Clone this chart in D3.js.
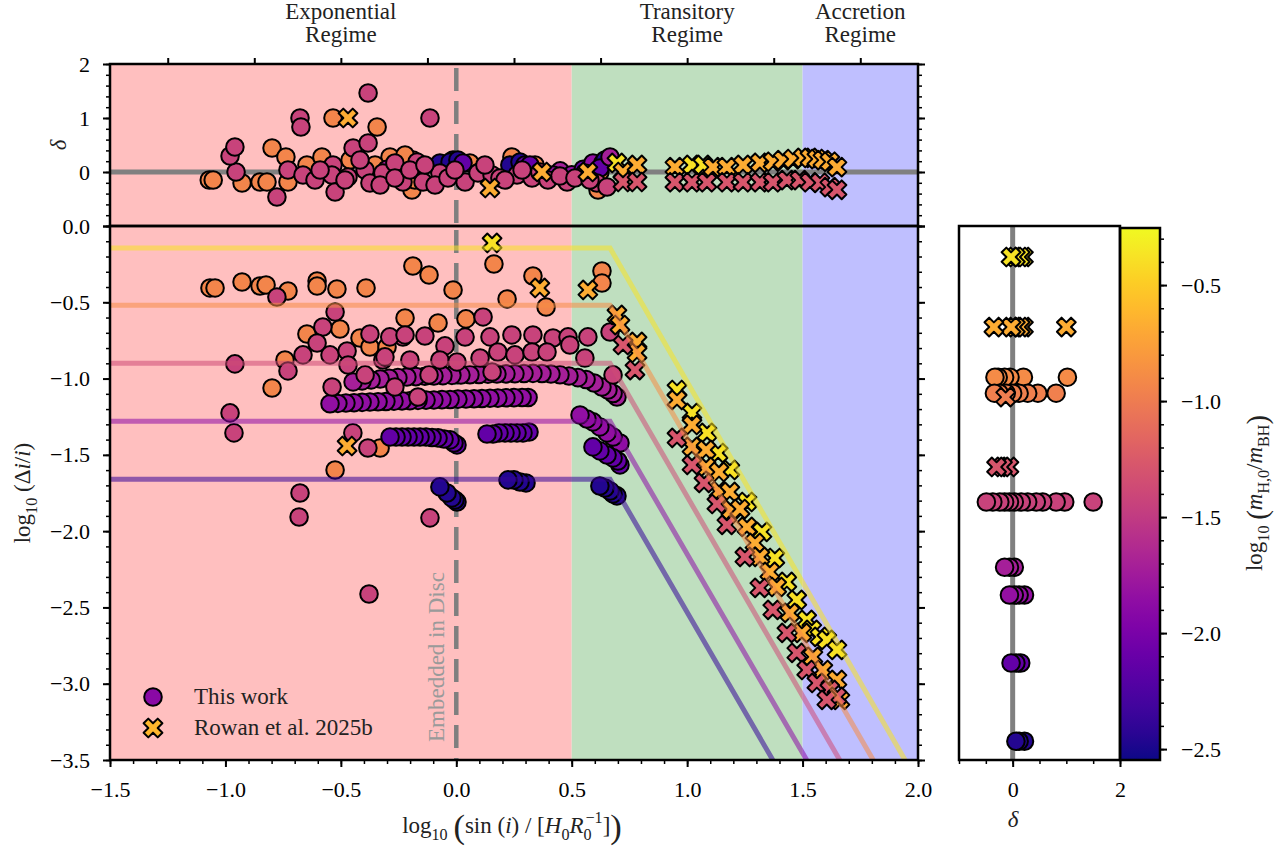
<!DOCTYPE html>
<html>
<head>
<meta charset="utf-8">
<script src="https://cdn.jsdelivr.net/npm/d3@7"></script>
<style>
  body { margin: 0; background: #fff; }
</style>
</head>
<body>
<svg id="chart" width="1287" height="856"></svg>
<script>
'use strict';

// log10(m_H,0 / m_BH) of each group of runs
const mOrange = -0.93, mPink = -1.43, mMagenta = -1.72, mViolet = -1.84, mPurple = -2.13, mBlue = -2.47
const mRowanYellow = -0.38, mRowanOrange = -0.68, mRowanPink = -1.28

// main panel, this work: [log10 sin(i)/(H0/R0), log10 Δi/i]
const workOrange = [[-1.067,-0.406],[-1.045,-0.406],[-0.928,-0.367],[-0.850,-0.393],[-0.824,-0.387],[-0.729,-0.426],
  [-0.603,-0.360],[-0.603,-0.393],[-0.517,-0.413],[-0.391,-0.406],[-0.188,-0.262],[-0.118,-0.321],[-0.014,-0.419],
  [0.163,-0.249],[0.220,-0.478],[0.332,-0.328],[0.389,-0.531],[0.631,-0.295],[0.631,-0.374],[-0.222,-0.603],
  [-0.079,-0.636],[0.042,-0.609],[-0.647,-0.708],[-0.504,-0.675],[-0.742,-0.878],[-0.798,-1.062],[-0.417,-0.734],
  [-0.374,-0.793],[-0.300,-0.793],[-0.525,-1.599],[-0.330,-1.455]]
const workMagenta = [[-0.447,-1.022],[-0.408,-1.015],[-0.369,-1.009],[-0.330,-1.003],[-0.291,-0.998],[-0.253,-0.994],
  [-0.214,-0.990],[-0.175,-0.987],[-0.136,-0.985],[-0.097,-0.983],[-0.058,-0.981],[-0.019,-0.979],[0.020,-0.977],
  [0.059,-0.975],[0.098,-0.973],[0.137,-0.971],[0.176,-0.970],[0.215,-0.969],[0.254,-0.968],[0.293,-0.967],
  [0.332,-0.966],[0.371,-0.967],[0.410,-0.970],[0.449,-0.975],[0.488,-0.983],[0.527,-0.994],[0.562,-1.006],
  [0.597,-1.029],[0.631,-1.055],[0.657,-1.075],[0.679,-1.098],[0.696,-1.121]]
const workViolet = [[-0.547,-1.165],[-0.513,-1.163],[-0.478,-1.160],[-0.443,-1.158],[-0.408,-1.156],[-0.374,-1.154],
  [-0.339,-1.152],[-0.305,-1.150],[-0.270,-1.148],[-0.235,-1.146],[-0.201,-1.145],[-0.166,-1.143],[-0.131,-1.141],
  [-0.097,-1.140],[-0.062,-1.138],[-0.027,-1.137],[0.007,-1.135],[0.042,-1.134],[0.077,-1.132],[0.111,-1.131],
  [0.146,-1.129],[0.180,-1.128],[0.215,-1.126],[0.250,-1.125],[0.285,-1.124],[0.311,-1.124],
  [0.536,-1.239],[0.566,-1.265],[0.592,-1.284],[0.622,-1.317],[0.653,-1.356],[0.679,-1.383],[0.709,-1.422]]
const workPurple = [[-0.287,-1.383],[-0.261,-1.383],[-0.235,-1.383],[-0.209,-1.383],[-0.183,-1.383],[-0.157,-1.383],
  [-0.131,-1.383],[-0.105,-1.386],[-0.079,-1.389],[-0.053,-1.396],[-0.027,-1.402],[-0.010,-1.422],[0.003,-1.435],
  [0.133,-1.363],[0.159,-1.363],[0.185,-1.356],[0.211,-1.356],[0.237,-1.356],[0.263,-1.356],[0.289,-1.356],[0.315,-1.350],
  [0.592,-1.448],[0.622,-1.474],[0.653,-1.501],[0.679,-1.520],[0.700,-1.540],[0.709,-1.566]]
const workBlue = [[-0.071,-1.710],[-0.040,-1.750],[-0.019,-1.782],[-0.006,-1.796],[0.003,-1.809],[0.224,-1.664],
  [0.250,-1.664],[0.276,-1.678],[0.302,-1.684],[0.622,-1.704],[0.644,-1.717],[0.666,-1.737],[0.679,-1.756],[0.696,-1.769]]
const workPink = [[-0.777,-0.465],[-0.525,-0.564],[0.116,-0.596],[-0.578,-0.662],[-0.603,-0.767],[-0.664,-0.845],
  [-0.729,-0.950],[-0.959,-0.904],[-0.547,-0.845],[-0.473,-0.819],[-0.374,-0.708],[-0.469,-0.911],[-0.318,-0.878],
  [-0.231,-0.728],[-0.201,-0.878],[-0.136,-0.721],[-0.049,-0.786],[-0.071,-0.878],[0.038,-0.728],[0.003,-0.891],
  [0.103,-0.865],[0.146,-0.727],[0.155,-0.957],[-0.395,-0.976],[-0.118,-0.976],[-0.266,-1.055],[-0.166,-1.121],
  [-0.538,-1.055],[-0.980,-1.225],[-0.963,-1.356],[-0.448,-1.356],[-0.383,-1.455],[-0.677,-1.750],[-0.681,-1.907],
  [-0.378,-2.412],[-0.114,-1.913],[0.241,-0.714],[0.332,-0.714],[0.419,-0.734],[0.484,-0.727],[0.570,-0.727],
  [0.180,-0.826],[0.254,-0.845],[0.328,-0.826],[0.393,-0.826],[0.492,-0.780],[0.557,-0.865],[0.679,-0.976],
  [0.666,-0.695],[-0.309,-0.858],[-0.288,-0.727],[-0.222,-0.714]]

// main panel, Rowan et al. 2025b
const rowanYellow = [[0.155,-0.111],[0.956,-1.075],[1.021,-1.225],[1.086,-1.356],[1.134,-1.488],[1.185,-1.599],
  [1.259,-1.809],[1.324,-2.005],[1.380,-2.176],[1.432,-2.333],[1.475,-2.451],[1.518,-2.582],[1.540,-2.647],
  [1.575,-2.693],[1.605,-2.713],[1.649,-2.778]]
const rowanOrange = [[0.362,-0.406],[0.570,-0.419],[-0.473,-1.442],[0.696,-0.583],[0.709,-0.649],[0.783,-0.760],
  [0.783,-0.832],[0.956,-1.140],[1.021,-1.304],[1.021,-1.448],[1.082,-1.468],[1.082,-1.579],[1.138,-1.612],
  [1.138,-1.737],[1.185,-1.743],[1.190,-1.861],[1.229,-1.855],[1.259,-1.972],[1.294,-2.077],[1.315,-2.169],
  [1.358,-2.267],[1.388,-2.366],[1.445,-2.536],[1.497,-2.667],[1.545,-2.824],[1.588,-2.910],[1.649,-2.975],[1.662,-3.106]]
const rowanPink = [[0.722,-0.780],[0.774,-0.944],[0.956,-1.389],[1.021,-1.566],[1.073,-1.684],[1.129,-1.822],
  [1.172,-1.959],[1.250,-2.169],[1.315,-2.372],[1.371,-2.516],[1.432,-2.667],[1.475,-2.798],[1.518,-2.910],
  [1.562,-2.995],[1.618,-3.041],[1.649,-3.086],[1.605,-3.106]]

// top panel: [x, δ] (dark ones carry their own mass)
const deltaOrange = [[-1.070,-0.148],[-1.053,-0.148],[-0.928,-0.204],[-0.850,-0.185],[-0.820,-0.185],[-0.798,0.444],
  [-0.738,0.278],[-0.729,-0.185],[-0.647,0.130],[-0.582,0.278],[-0.534,1.0],[-0.343,0.833],[-0.287,0.278],
  [-0.188,0.222],[-0.192,-0.333],[0.059,0.167],[0.241,0.278],[-0.460,0.222],[-0.352,0.130],[-0.222,0.315],
  [-0.179,-0.148],[0.341,0.130],[0.622,0.0],[0.614,-0.333]]
const deltaDark = [[-0.300,0.05,mMagenta],[0.100,0.0,mViolet],[0.450,0.02,mMagenta],[0.500,-0.05,mViolet],
  [0.550,0.05,mPurple],[-0.071,0.167,mBlue],[-0.014,0.222,mBlue],[-0.027,0.185,mBlue],[0.007,0.222,mBlue],
  [0.029,0.167,mPurple],[0.232,0.130,mBlue],[0.276,0.185,mBlue],[0.297,0.130,mPurple],[0.319,0.130,mPurple],
  [0.419,-0.056,mViolet],[0.592,0.167,mViolet],[0.635,0.167,mBlue],[0.644,0.222,mBlue],[0.622,0.074,mPurple],
  [0.666,0.278,mMagenta]]
const deltaPink = [[-0.954,0.0],[-0.980,0.296],[-0.959,0.463],[-0.777,-0.463],[-0.729,0.037],[-0.677,1.0],
  [-0.673,0.833],[-0.664,-0.056],[-0.612,-0.148],[-0.534,0.130],[-0.539,-0.056],[-0.525,-0.370],[-0.447,0.444],
  [-0.469,-0.093],[-0.382,1.463],[-0.382,0.537],[-0.395,0.037],[-0.374,-0.204],[-0.318,-0.019],[-0.266,0.167],
  [-0.231,-0.185],[-0.170,0.185],[-0.144,-0.185],[-0.114,1.0],[-0.071,-0.019],[0.038,-0.185],[0.094,-0.019],
  [0.155,-0.056],[0.189,-0.111],[0.263,-0.056],[0.328,-0.111],[0.480,-0.185],[0.557,-0.019],[0.609,-0.204],
  [0.653,-0.278],[-0.590,0.037],[-0.482,-0.148],[-0.417,0.222],[-0.330,-0.241],[-0.266,-0.111],[-0.201,0.037],
  [-0.136,0.130],[-0.092,-0.241],[-0.036,-0.111],[-0.006,0.037],[0.124,0.130],[0.211,-0.148],[0.285,0.037],
  [0.362,0.0],[0.397,-0.148],[0.449,-0.074],[0.514,-0.111],[0.579,-0.148]]
const deltaRowanYellow = [[0.696,0.167],[1.021,0.13],[1.069,0.13]]
const deltaRowanOrange = [[-0.469,1.0],[0.146,-0.296],[0.371,0.0],[0.570,0.0],[0.722,0.0],[0.783,0.130],[0.947,0.09],
  [1.112,0.09],[1.172,0.09],[1.242,0.13],[1.315,0.17],[1.372,0.19],[1.415,0.22],[1.458,0.24],[1.502,0.26],
  [1.532,0.26],[1.562,0.24],[1.588,0.22],[1.618,0.19],[1.649,0.09]]
const deltaRowanPink = [[0.722,-0.185],[0.783,-0.185],[0.947,-0.19],[1.021,-0.19],[1.086,-0.19],[1.172,-0.19],
  [1.242,-0.19],[1.315,-0.19],[1.372,-0.19],[1.432,-0.15],[1.488,-0.15],[1.532,-0.19],[1.575,-0.20],[1.618,-0.28],[1.649,-0.33]]

// side panel: [δ, log10 m_H,0/m_BH]
const sideCircles = [[1.02,-0.897],[0.2,-0.897],[-0.05,-0.897],[-0.15,-0.897],[-0.27,-0.897],[-0.33,-0.897],
  [0.81,-0.966],[0.47,-0.966],[0.28,-0.966],[0.12,-0.966],[0.0,-0.966],[-0.12,-0.966],[-0.25,-0.966],[-0.34,-0.966],
  [1.5,-1.435],[0.97,-1.435],[0.81,-1.435],[0.56,-1.435],[0.44,-1.435],[0.28,-1.435],[0.16,-1.435],[0.03,-1.435],
  [-0.06,-1.435],[-0.15,-1.435],[-0.24,-1.435],[-0.37,-1.435],[-0.49,-1.435],
  [0.03,-1.716],[-0.06,-1.716],[-0.15,-1.716],
  [0.22,-1.836],[0.12,-1.836],[0.03,-1.836],[-0.06,-1.836],
  [0.15,-2.129],[0.06,-2.129],[-0.03,-2.129],
  [0.22,-2.466],[0.12,-2.466],[0.06,-2.466]]
const sideCrosses = [[0.2,-0.379],[0.14,-0.379],[0.05,-0.379],[-0.03,-0.379],
  [1.0,-0.681],[0.2,-0.681],[0.14,-0.681],[0.05,-0.681],[-0.03,-0.681],[-0.35,-0.681],
  [-0.13,-0.983],[-0.07,-1.284],[-0.19,-1.284],[-0.3,-1.284]]

// model tracks: plateau level, knee and where each reaches the bottom
const trackMass = [-0.38, -0.88, -1.38, -1.88, -2.38]
const trackPlateau = [-0.145, -0.52, -0.90, -1.28, -1.66]
const trackKnee = 0.666
const trackEnd = [1.944, 1.806, 1.661, 1.518, 1.371]

// regimes
const regimeEdges = [-1.5, 0.5, 1.5, 2.0]
const regimeNames = [['Exponential', 'Regime'], ['Transitory', 'Regime'], ['Accretion', 'Regime']]
const regimeLabelAt = [-0.5, 1.0, 1.75]
const topTicks = [-1.25, -0.875, -0.5, -0.125, 0.25, 0.625, 1.0, 1.375, 1.75]

const regimeFill = ['#ffbfbf', '#bfdfbf', '#bfbfff']
const font = '"Liberation Serif", "Times New Roman", serif'

const svg = d3.select('#chart')

const x = d3.scaleLinear().domain([-1.5, 2]).range([110, 918])
const yTop = d3.scaleLinear().domain([-1, 2]).range([226, 64])
const yBot = d3.scaleLinear().domain([-3.5, 0]).range([760, 226])
const xSide = d3.scaleLinear().domain([-1, 2]).range([959, 1120])
const yMass = d3.scaleLinear().domain([-2.547, -0.254]).range([760, 228])
const color = d3.scaleSequential(d3.interpolatePlasma).domain([-2.547, -0.254])

const defs = svg.append('defs')
function clip(id, x0, y0, x1, y1) {
  defs.append('clipPath').attr('id', id).append('rect')
    .attr('x', x0).attr('y', y0).attr('width', x1 - x0).attr('height', y1 - y0)
}
clip('clipTop', x(-1.5), yTop(2), x(2), yTop(-1))
clip('clipBot', x(-1.5), yBot(0), x(2), yBot(-3.5))
clip('clipSide', xSide(-1), yBot(0), xSide(2), yBot(-3.5))

// filled "X" marker like matplotlib
const crossPath = (() => {
  const L = 10, w = 3.3
  const pts = [[w,w],[w,L],[-w,L],[-w,w],[-L,w],[-L,-w],[-w,-w],[-w,-L],[w,-L],[w,-w],[L,-w],[L,w]]
  return 'M' + pts.map(([a, b]) => ((a - b) / Math.SQRT2).toFixed(2) + ',' + ((a + b) / Math.SQRT2).toFixed(2)).join('L') + 'Z'
})()

function drawCircles(g, data) {
  g.selectAll(null).data(data).join('circle')
    .attr('cx', d => d.cx).attr('cy', d => d.cy).attr('r', 8.8)
    .attr('fill', d => color(d.m)).attr('stroke', '#000').attr('stroke-width', 2)
}
function drawCrosses(g, data) {
  g.selectAll(null).data(data).join('path')
    .attr('d', crossPath).attr('transform', d => `translate(${d.cx},${d.cy})`)
    .attr('fill', d => color(d.m)).attr('stroke', '#000').attr('stroke-width', 2).attr('stroke-linejoin', 'round')
}

// ---------- top panel ----------
const topPanel = svg.append('g').attr('clip-path', 'url(#clipTop)')
const mainPanel = svg.append('g').attr('clip-path', 'url(#clipBot)')
;[[topPanel, yTop], [mainPanel, yBot]].forEach(([g, y]) => {
  g.selectAll(null).data(regimeFill).join('rect')
    .attr('x', (d, i) => x(regimeEdges[i])).attr('width', (d, i) => x(regimeEdges[i + 1]) - x(regimeEdges[i]))
    .attr('y', y.range()[1]).attr('height', y.range()[0] - y.range()[1]).attr('fill', d => d)
  g.append('line').attr('x1', x(0)).attr('x2', x(0)).attr('y1', y.range()[1]).attr('y2', y.range()[0])
    .attr('stroke', '#7f7f7f').attr('stroke-width', 4.5).attr('stroke-dasharray', '23,10').attr('stroke-dashoffset', -4)
})
topPanel.append('line').attr('x1', x(-1.5)).attr('x2', x(2)).attr('y1', yTop(0)).attr('y2', yTop(0))
  .attr('stroke', '#808080').attr('stroke-width', 5)

drawCircles(topPanel, [
  ...deltaOrange.map(d => ({cx: x(d[0]), cy: yTop(d[1]), m: mOrange})),
  ...deltaDark.map(d => ({cx: x(d[0]), cy: yTop(d[1]), m: d[2]})),
  ...deltaPink.map(d => ({cx: x(d[0]), cy: yTop(d[1]), m: mPink}))
])
drawCrosses(topPanel, [
  ...deltaRowanYellow.map(d => ({cx: x(d[0]), cy: yTop(d[1]), m: mRowanYellow})),
  ...deltaRowanOrange.map(d => ({cx: x(d[0]), cy: yTop(d[1]), m: mRowanOrange})),
  ...deltaRowanPink.map(d => ({cx: x(d[0]), cy: yTop(d[1]), m: mRowanPink}))
])

// ---------- main panel ----------
const byXDesc = pts => pts.slice().sort((a, b) => b[0] - a[0])
drawCircles(mainPanel, [
  ...workOrange.map(d => ({cx: x(d[0]), cy: yBot(d[1]), m: mOrange})),
  ...byXDesc(workMagenta).map(d => ({cx: x(d[0]), cy: yBot(d[1]), m: mMagenta})),
  ...byXDesc(workViolet).map(d => ({cx: x(d[0]), cy: yBot(d[1]), m: mViolet})),
  ...byXDesc(workPurple).map(d => ({cx: x(d[0]), cy: yBot(d[1]), m: mPurple})),
  ...byXDesc(workBlue).map(d => ({cx: x(d[0]), cy: yBot(d[1]), m: mBlue})),
  ...workPink.map(d => ({cx: x(d[0]), cy: yBot(d[1]), m: mPink}))
])
drawCrosses(mainPanel, [
  ...rowanYellow.map(d => ({cx: x(d[0]), cy: yBot(d[1]), m: mRowanYellow})),
  ...rowanOrange.map(d => ({cx: x(d[0]), cy: yBot(d[1]), m: mRowanOrange})),
  ...rowanPink.map(d => ({cx: x(d[0]), cy: yBot(d[1]), m: mRowanPink}))
])

const track = d3.line().x(d => x(d[0])).y(d => yBot(d[1]))
mainPanel.selectAll(null).data(trackMass).join('path')
  .attr('d', (m, i) => track([[-1.5, trackPlateau[i]], [trackKnee, trackPlateau[i]], [trackEnd[i], -3.5]]))
  .attr('fill', 'none').attr('stroke', m => color(m)).attr('stroke-width', 5).attr('stroke-opacity', 0.55)

mainPanel.append('text').attr('transform', `translate(${x(0) - 12},742) rotate(-90)`)
  .attr('font-family', font).attr('font-size', 23).attr('fill', '#9a9a9a').text('Embedded in Disc')

// legend
const leg = svg.append('g')
drawCircles(leg, [{cx: 153, cy: 697, m: -1.9}])
drawCrosses(leg, [{cx: 153, cy: 728, m: -0.62}])
leg.selectAll(null).data(['This work', 'Rowan et al. 2025b']).join('text')
  .attr('x', 194).attr('y', (d, i) => 704 + i * 31)
  .attr('font-family', font).attr('font-size', 23).attr('fill', '#222').text(d => d)

// ---------- side panel ----------
const sidePanel = svg.append('g').attr('clip-path', 'url(#clipSide)')
sidePanel.append('rect').attr('x', xSide(-1)).attr('y', yBot(0)).attr('width', xSide(2) - xSide(-1))
  .attr('height', yBot(-3.5) - yBot(0)).attr('fill', '#fff')
sidePanel.append('line').attr('x1', xSide(0)).attr('x2', xSide(0)).attr('y1', yBot(0)).attr('y2', yBot(-3.5))
  .attr('stroke', '#808080').attr('stroke-width', 5)
drawCircles(sidePanel, sideCircles.map(d => ({cx: xSide(d[0]), cy: yMass(d[1]), m: d[1]})))
drawCrosses(sidePanel, sideCrosses.map(d => ({cx: xSide(d[0]), cy: yMass(d[1]), m: d[1]})))

// colorbar
const grad = defs.append('linearGradient').attr('id', 'plasma').attr('x1', 0).attr('x2', 0).attr('y1', 1).attr('y2', 0)
d3.range(0, 1.0001, 0.05).forEach(t => grad.append('stop').attr('offset', t).attr('stop-color', d3.interpolatePlasma(t)))
svg.append('rect').attr('x', 1120).attr('y', yMass(-0.254)).attr('width', 40)
  .attr('height', yMass(-2.547) - yMass(-0.254)).attr('fill', 'url(#plasma)')

// ---------- frames & axes ----------
const frames = [[x(-1.5), yTop(2), x(2), yTop(-1)], [x(-1.5), yBot(0), x(2), yBot(-3.5)],
  [xSide(-1), yBot(0), xSide(2), yBot(-3.5)], [1120, yMass(-0.254), 1160, yMass(-2.547)]]
svg.selectAll(null).data(frames).join('rect')
  .attr('x', d => d[0]).attr('y', d => d[1]).attr('width', d => d[2] - d[0]).attr('height', d => d[3] - d[1])
  .attr('fill', 'none').attr('stroke', '#000').attr('stroke-width', 2.5)

const axisOf = {left: d3.axisLeft, right: d3.axisRight, top: d3.axisTop, bottom: d3.axisBottom}
function addAxis(orient, scale, major, minor, fmt, transform, pad) {
  const gMin = svg.append('g').attr('transform', transform)
    .call(axisOf[orient](scale).tickValues(minor).tickSize(4).tickFormat(''))
  gMin.select('.domain').remove()
  gMin.selectAll('.tick line').attr('stroke-width', 1.5)
  const gMaj = svg.append('g').attr('transform', transform)
    .call(axisOf[orient](scale).tickValues(major).tickSize(7).tickPadding(pad).tickFormat(fmt))
  gMaj.select('.domain').remove()
  gMaj.selectAll('.tick line').attr('stroke-width', 2)
  gMaj.selectAll('text').attr('font-family', font).attr('font-size', 22).attr('fill', '#000')
}
const f1 = d3.format('.1f')
const none = () => ''
addAxis('left', yTop, [-1, 0, 1, 2], d3.range(-1, 2.001, 0.2), d => d === -1 ? '' : d3.format('d')(d), 'translate(110,0)', 13)
addAxis('right', yTop, [-1, 0, 1, 2], d3.range(-1, 2.001, 0.2), none, 'translate(918,0)', 3)
addAxis('left', yBot, d3.range(-3.5, 0.001, 0.5), d3.range(-3.5, 0.001, 0.1), f1, 'translate(110,0)', 13)
addAxis('right', yBot, d3.range(-3.5, 0.001, 0.5), d3.range(-3.5, 0.001, 0.1), none, 'translate(918,0)', 3)
addAxis('bottom', x, d3.range(-1.5, 2.001, 0.5), d3.range(-1.5, 2.001, 0.1), f1, 'translate(0,760)', 14)
addAxis('bottom', xSide, [0, 2], d3.range(-1, 2.001, 0.5), d3.format('d'), 'translate(0,760)', 14)
addAxis('right', yMass, d3.range(-2.5, -0.499, 0.5), d3.range(-2.5, -0.29, 0.1), f1, 'translate(1160,0)', 14)
const regimeAxis = svg.append('g').attr('transform', 'translate(0,64)')
  .call(d3.axisTop(x).tickValues(topTicks).tickSize(6).tickFormat(''))
regimeAxis.select('.domain').remove()
regimeAxis.selectAll('.tick line').attr('stroke-width', 2)

svg.selectAll(null).data(regimeNames).join('text')
  .attr('font-family', font).attr('font-size', 23).attr('text-anchor', 'middle').attr('fill', '#222')
  .each(function (lines, i) {
    d3.select(this).selectAll('tspan').data(lines).join('tspan')
      .attr('x', x(regimeLabelAt[i])).attr('y', (d, j) => 19 + j * 23).text(d => d)
  })

// rich text labels
function rich(sel, parts, size) {
  let shift = 0
  parts.forEach(p => {
    const target = p.sub ? size * 0.3 : p.sup ? -size * 0.42 : p.big ? size * 0.22 : 0
    const ts = sel.append('tspan').attr('dy', target - shift).text(p.t)
    shift = target
    if (p.sub || p.sup) ts.attr('font-size', size * 0.7)
    if (p.big) ts.attr('font-size', size * p.big)
    if (p.it) ts.attr('font-style', 'italic')
    if (p.dx) ts.attr('dx', p.dx)
  })
}
function label(transform, parts, size) {
  const t = svg.append('text').attr('transform', transform).attr('text-anchor', 'middle')
    .attr('font-family', font).attr('font-size', size).attr('fill', '#222')
  rich(t, parts, size)
}
label('translate(512,833)', [{t: 'log'}, {t: '10', sub: 1}, {t: ' '}, {t: '(', big: 1.5}, {t: 'sin ('}, {t: 'i', it: 1},
  {t: ') / ['}, {t: 'H', it: 1}, {t: '0', sub: 1}, {t: 'R', it: 1}, {t: '0', sub: 1}, {t: '−1', sup: 1, dx: -6},
  {t: ']'}, {t: ')', big: 1.5}], 23)
label('translate(30,493) rotate(-90)', [{t: 'log'}, {t: '10', sub: 1}, {t: ' (Δ'}, {t: 'i', it: 1}, {t: '/'},
  {t: 'i', it: 1}, {t: ')'}], 23)
label('translate(66,145) rotate(-90)', [{t: 'δ', it: 1}], 23)
label('translate(1013,827)', [{t: 'δ', it: 1}], 23)
label('translate(1262,493) rotate(-90)', [{t: 'log'}, {t: '10', sub: 1}, {t: ' '}, {t: '(', big: 1.25}, {t: 'm', it: 1},
  {t: 'H,0', sub: 1}, {t: '/'}, {t: 'm', it: 1}, {t: 'BH', sub: 1}, {t: ')', big: 1.25}], 23)
</script>
</body>
</html>
